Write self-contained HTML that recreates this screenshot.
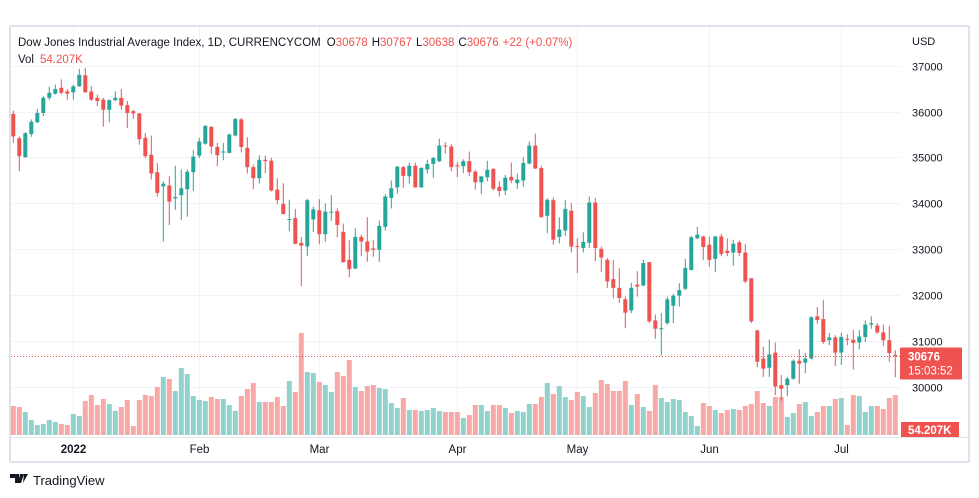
<!DOCTYPE html>
<html><head><meta charset="utf-8">
<style>
html,body{margin:0;padding:0;background:#fff;width:979px;height:498px;overflow:hidden;font-family:"Liberation Sans",sans-serif;}
svg text{font-family:"Liberation Sans",sans-serif;}
</style></head>
<body>
<svg id="chart" width="979" height="498" viewBox="0 0 979 498" xmlns="http://www.w3.org/2000/svg">
  <rect x="10" y="26" width="959" height="436" fill="#fff" stroke="#e0e3eb" stroke-width="2"/>
  <g id="grid"></g>
  <g id="vols"></g>
  <g id="candles"></g>
  <g id="yaxis"></g>
  <g id="xaxis"></g>
  <text x="18" y="46" font-size="11.5" fill="#131722">Dow Jones Industrial Average Index, 1D, CURRENCYCOM<tspan dx="6">O</tspan><tspan fill="#ef5350">30678</tspan><tspan dx="4">H</tspan><tspan fill="#ef5350">30767</tspan><tspan dx="4">L</tspan><tspan fill="#ef5350">30638</tspan><tspan dx="4">C</tspan><tspan fill="#ef5350">30676</tspan><tspan dx="4" fill="#ef5350">+22 (+0.07%)</tspan></text>
  <text x="18" y="63" font-size="11.5" fill="#131722">Vol<tspan dx="6" fill="#ef5350">54.207K</tspan></text>
  <text x="912" y="45" font-size="11" fill="#131722">USD</text>
  <g>
    <path d="M10 474h9v9h-4v-5h-5z M20 474h4l-3 9h-3z M24 474h4l-5 9z" fill="#131722"/>
    <text x="33" y="485" font-size="13" fill="#131722">TradingView</text>
  </g>
</svg>
<script>
const opens=[35950,35420,35010,35510,35770,35970,36300,36390,36520,36440,36420,36550,36790,36440,36300,36260,36040,36250,36300,36140,36010,35960,35430,35060,34680,
34370,34390,34110,34180,34310,34680,35040,35300,35670,35230,35110,35100,35480,35830,35210,34790,34550,34950,34930,34300,33990,33640,33680,33140,33060,
33650,33850,33330,33800,33830,33380,32770,32580,33270,33170,33020,32990,33490,34120,34350,34790,34590,34820,34350,34740,34860,34920,35260,35240,34830,
34810,34920,34690,34460,34570,34750,34360,34280,34580,34440,34500,34870,35260,34770,33730,34070,33270,33410,33840,33070,33030,33140,34020,33010,32770,
32350,32160,31910,31670,32230,32210,32720,31450,31270,31390,31770,31990,32140,32550,33240,33280,33100,32790,33280,32970,32930,33150,32930,32370,31230,
30620,30420,30750,30040,30040,30180,30570,30530,30620,31540,31480,31020,31080,30750,31050,31030,30970,31090,31360,31340,31190,31020,30698];
const highs=[36020,35460,35550,35830,36060,36335,36540,36590,36700,36490,36590,36930,36950,36550,36370,36300,36260,36440,36490,36230,36040,35970,35530,35480,34880,
34480,34590,34820,34740,34740,35160,35430,35700,35680,35320,35320,35520,35860,35860,35440,34840,35050,35040,34990,34550,34440,34080,33880,33270,34100,
33930,34090,34000,34180,33890,33560,33200,33460,33320,33700,33200,33630,34200,34500,34820,34820,34890,34890,34790,34950,35010,35410,35330,35300,34900,
34960,35130,34730,34590,34930,34770,34480,34620,34890,34650,35010,35350,35520,34820,34110,34130,33700,34080,34010,33240,33370,34150,34120,33060,32810,
32770,32590,31970,32270,32520,32770,32720,31580,31610,31970,32030,32260,32790,33290,33490,33290,33280,33290,33340,33240,33210,33190,33120,32370,31250,
30880,31030,30970,30260,30220,30600,30820,30740,31540,31740,31900,31180,31130,31180,31150,31240,31240,31450,31540,31390,31360,31330,30800];
const lows=[35320,34700,34990,35450,35750,35900,36250,36370,36370,36260,36260,36540,36410,36230,36120,35670,35770,36230,36040,35640,35840,35280,34990,34520,34150,
33170,33530,33860,33640,33710,34270,34990,35280,35080,34810,34940,35090,35460,35110,34650,34310,34430,34660,34260,33980,33760,33390,33110,32200,32850,
33380,33110,33160,33620,33260,32710,32390,32570,32850,32730,32840,32730,33410,33890,34210,34340,34430,34340,34340,34650,34560,34900,35080,34700,34570,
34660,34590,34300,34200,34480,34280,34150,34180,34440,34320,34360,34850,34750,33690,33350,33100,33130,33290,32930,32480,32930,33030,32740,32510,32160,
31930,31830,31280,31610,31970,32200,31390,31050,30690,31360,31390,31750,32110,32540,33220,32770,32620,32510,32850,32850,32640,32850,32260,31390,30430,
30220,30220,29820,29700,29800,30160,30070,30300,30600,31380,30940,30910,30460,30480,30910,30380,30820,30980,31270,31160,30900,30550,30210];
const closes=[35460,35030,35530,35780,35970,36300,36410,36490,36410,36390,36550,36800,36420,36260,36230,36040,36250,36300,36130,35970,35960,35400,35030,34650,34230,
34430,34040,34140,34330,34690,35020,35350,35690,35240,35050,35130,35500,35840,35230,34790,34550,34950,34920,34280,34070,33770,33660,33120,33080,34070,
33870,33330,33820,33820,33530,32720,32570,33270,33170,32950,32990,33510,34150,34330,34800,34600,34820,34350,34770,34860,34990,35260,35240,34790,34810,
34920,34680,34460,34590,34730,34320,34270,34560,34500,34520,34880,35260,34760,33700,34080,33210,33430,33880,33060,33050,33160,34020,33030,32820,32300,
32160,31940,31620,32160,32190,32700,31430,31270,31280,31910,31990,32110,32590,33260,33320,33050,32770,33280,32900,32920,33120,32920,32300,31430,30550,
30400,30710,30010,29960,30180,30570,30510,30620,31520,31460,30980,31080,30750,31090,31030,30960,31100,31360,31390,31190,31020,30740,30676];
const volumes=[29,28,23,15,10,11,15,13,11,10,21,19,34,40,30,36,31,24,28,35,9,35,40,39,48,
58,56,44,67,61,39,35,34,38,36,36,30,24,39,46,52,33,33,33,38,29,54,43,102,63,
62,53,50,43,63,59,75,48,44,49,50,47,46,32,27,37,25,25,24,25,27,24,23,23,23,
17,20,30,30,24,30,30,27,22,24,23,31,31,38,52,41,49,38,35,43,39,28,42,55,51,
44,44,54,30,41,28,24,50,37,33,36,35,23,19,9,32,29,25,22,25,26,25,29,31,44,
32,29,38,38,18,22,31,33,19,23,29,29,36,37,10,40,39,23,29,29,26,37,40];
const priceTicks=[30000,31000,32000,33000,34000,35000,36000,37000];
const monthLabels=["2022","Feb","Mar","Apr","May","Jun","Jul"];
const monthIdx=[10,31,51,74,94,116,138];

const NS="http://www.w3.org/2000/svg";
const X0=13.3, PITCH=6.0;
function xOf(i){return X0+i*PITCH;}
function yOf(p){return 387-(p-30000)*0.0459;}
const VOL_BASE=435, VOL_SCALE=1.0;
function vh(v){return v*VOL_SCALE;}
function mk(tag,attrs,parent){const e=document.createElementNS(NS,tag);for(const k in attrs)e.setAttribute(k,attrs[k]);parent.appendChild(e);return e;}
const G=document.getElementById('grid'),C=document.getElementById('candles'),V=document.getElementById('vols'),YA=document.getElementById('yaxis'),XA=document.getElementById('xaxis');
const UP="#26a69a",DN="#ef5350",UPV="#92d2cc",DNV="#f7a9a7";

priceTicks.forEach(p=>{
  const y=Math.round(yOf(p))+0.5;
  const l=mk('line',{x1:11,x2:900,y1:y,y2:y,stroke:'#f0f3fa','stroke-width':1},G);
  
  
  const t=mk('text',{x:912,y:y+4,'font-size':11,fill:'#131722'},YA);
  t.textContent=p;
  
  
});
monthIdx.forEach((idx,k)=>{
  const x=Math.round(xOf(idx))+0.5;
  const l=mk('line',{x1:x,x2:x,y1:27,y2:437,stroke:'#f0f3fa','stroke-width':1},G);
  
  
  const t=mk('text',{x:x,y:453,'font-size':11.5,fill:'#131722','text-anchor':'middle','font-weight':k===0?'bold':'normal'},XA);
  t.textContent=monthLabels[k];
  
  
});
const ax=mk('line',{x1:11,x2:969,y1:437.5,y2:437.5,stroke:'#e0e3eb'},XA);



volumes.forEach((v,i)=>{
  const up=closes[i]>=opens[i];
  const r=mk('rect',{x:xOf(i)-2.5,y:VOL_BASE-vh(v),width:5,height:vh(v),fill:up?UPV:DNV},V);
  
  
});
opens.forEach((o,i)=>{
  const c=closes[i],up=c>=o,col=up?UP:DN,x=xOf(i);
  const g=mk('g',{},C);
  
  
  mk('line',{x1:x,x2:x,y1:yOf(highs[i]),y2:yOf(lows[i]),stroke:col,'stroke-width':1},g);
  const yt=yOf(Math.max(o,c)),yb=yOf(Math.min(o,c));
  mk('rect',{x:x-2,y:yt,width:4,height:Math.max(1,yb-yt),fill:col},g);
});
// last price line and labels
const last=closes[closes.length-1];
const ly=Math.round(yOf(last))+0.5;
const pl=mk('line',{x1:11,x2:900,y1:ly,y2:ly,stroke:DN,'stroke-width':1,'stroke-dasharray':'1 2'},YA);


const pb=mk('rect',{x:900,y:ly-9,width:62,height:32,fill:DN,rx:1},YA);


const pt=mk('text',{x:908,y:ly+4,'font-size':11.5,fill:'#fff','font-weight':'bold'},YA);
pt.textContent=last;


const tt=mk('text',{x:908,y:ly+18,'font-size':11.5,fill:'#fff'},YA);
tt.textContent="15:03:52";


const vb=mk('rect',{x:901,y:422,width:58,height:15,fill:DN},YA);


const vt=mk('text',{x:908,y:434,'font-size':11.5,fill:'#fff','font-weight':'bold'},YA);
vt.textContent="54.207K";


</script>
</body></html>
